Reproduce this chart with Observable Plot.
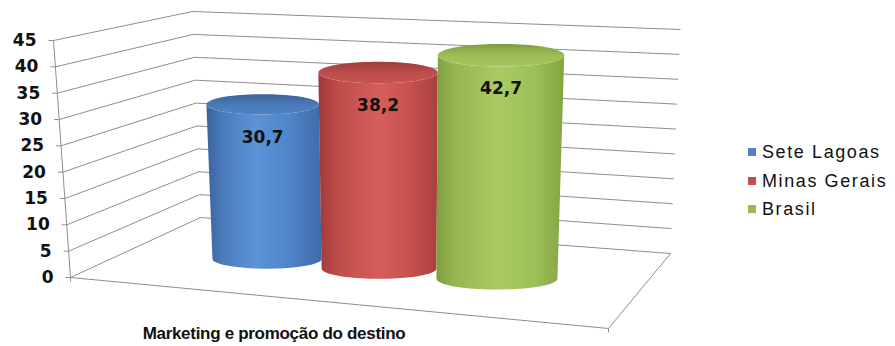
<!DOCTYPE html>
<html><head><meta charset="utf-8">
<script src="https://cdn.jsdelivr.net/npm/d3@7"></script>
<script src="https://cdn.jsdelivr.net/npm/@observablehq/plot@0.6"></script>
<style>
body{margin:0;background:#fff;}
#wrap{position:relative;width:895px;height:346px;overflow:hidden;}
#wrap svg{position:absolute;left:0;top:0;}
.leg{position:absolute;left:748px;font-family:"Liberation Sans",Arial,sans-serif;font-size:18px;letter-spacing:1.6px;color:#111;white-space:nowrap;line-height:20px;}
.leg span.sw{display:inline-block;width:8px;height:8px;margin-right:6px;vertical-align:2px;}
#xtitle{position:absolute;left:0;width:548px;top:324px;text-align:center;font-family:"Liberation Sans",Arial,sans-serif;font-weight:bold;font-size:17px;letter-spacing:-0.3px;color:#111;}
</style></head><body><div id="wrap"></div>
<script>
// ---- data ----
const series = ["Sete Lagoas", "Minas Gerais", "Brasil"];
const values = [30.7, 38.2, 42.7];
const valueLabels = ["30,7", "38,2", "42,7"];
const seriesColors = ["#4f81bd", "#c0504d", "#9bbb59"];
const yTicks = [0, 5, 10, 15, 20, 25, 30, 35, 40, 45];
const categoryLabel = "Marketing e promoção do destino";

// ---- 3D box layout (screen corners of the chart box) ----
const C = {
  FLB: [70, 277], FLT: [53, 40], BLB: [200, 217], BLT: [192, 11],
  FRB: [608, 328], FRT: [620, 70], BRB: [670, 253], BRT: [680, 29]
};
const persp = 1.12;
const depth = 0.5;
const lerp = (a, b, t) => [a[0] + (b[0] - a[0]) * t, a[1] + (b[1] - a[1]) * t];
const warp = t => t / (t + persp * (1 - t));
function P(u, v, w) {
  const bf = lerp(C.FLB, C.FRB, u), bb = lerp(C.BLB, C.BRB, u);
  const tf = lerp(C.FLT, C.FRT, u), tb = lerp(C.BLT, C.BRT, u);
  return lerp(lerp(bf, bb, w), lerp(tf, tb, w), v);
}

// Plot scales: value -> height fraction, series -> band across the box
const vScale = Plot.scale({y: {domain: [0, 45], range: [0, 1]}});
const bScale = Plot.scale({x: {type: "band", domain: series, range: [0.168, 0.852], padding: 0}});
const bw = bScale.bandwidth;

// grid segments
const segs = [];
for (const t of yTicks) {
  const v = vScale.apply(t);
  const a = P(0, v, 0), b = P(0, v, 1), c = P(1, v, 1);
  segs.push({x1: a[0], y1: a[1], x2: b[0], y2: b[1]});
  segs.push({x1: b[0], y1: b[1], x2: c[0], y2: c[1]});
  segs.push({x1: a[0] - 5, y1: a[1], x2: a[0], y2: a[1]});
}
{
  const a = P(0, 0, 0), b = P(1, 0, 0), c = P(1, 0, 1), t = P(0, 1, 0);
  segs.push({x1: a[0], y1: a[1], x2: b[0], y2: b[1]});
  segs.push({x1: b[0], y1: b[1], x2: c[0], y2: c[1]});
  segs.push({x1: a[0], y1: a[1], x2: t[0], y2: t[1]});
  segs.push({x1: a[0], y1: a[1], x2: a[0], y2: a[1] + 4});
  segs.push({x1: b[0], y1: b[1], x2: b[0], y2: b[1] + 4});
}

// cylinders
const ryRatio = 0.18;
const cyl = series.map((s, i) => {
  const t0 = bScale.apply(s), t1 = t0 + bw;
  const u0 = warp(t0), u1 = warp(t1);
  const v = vScale.apply(values[i]);
  const BL = P(u0, 0, depth), BR = P(u1, 0, depth);
  const TL = P(u0, v, depth), TR = P(u1, v, depth);
  const bot = {cx: (BL[0] + BR[0]) / 2, cy: (BL[1] + BR[1]) / 2, rx: (BR[0] - BL[0]) / 2};
  const top = {cx: (TL[0] + TR[0]) / 2, cy: (TL[1] + TR[1]) / 2, rx: (TR[0] - TL[0]) / 2};
  bot.ry = bot.rx * ryRatio; top.ry = top.rx * ryRatio;
  const E = (e, th) => [e.cx + e.rx * Math.cos(th), e.cy + e.ry * Math.sin(th)];
  const N = 40, body = [], cap = [];
  for (let k = 0; k <= N; k++) body.push(E(bot, Math.PI - Math.PI * k / N));
  for (let k = 0; k <= N; k++) body.push(E(top, Math.PI * k / N));
  for (let k = 0; k < 2 * N; k++) cap.push(E(top, 2 * Math.PI * k / (2 * N)));
  return {i, body, cap, top, label: valueLabels[i]};
});

const font = "DejaVu Sans";
const marks = [
  Plot.link(segs, {x1: "x1", y1: "y1", x2: "x2", y2: "y2", stroke: "#8e8e8e", strokeWidth: 1})
];
cyl.forEach(c => {
  marks.push(Plot.line(c.body, {x: d => d[0], y: d => d[1], curve: "linear-closed", fill: `url(#body${c.i})`, stroke: "none"}));
  marks.push(Plot.line(c.cap, {x: d => d[0], y: d => d[1], curve: "linear-closed", fill: `url(#cap${c.i})`, stroke: "none"}));
});
marks.push(Plot.text(cyl, {x: d => d.top.cx, y: d => d.top.cy + 33, text: "label", fontFamily: font, fontWeight: "bold", fontSize: 17, fill: "#111", textAnchor: "middle", style: "letter-spacing:0.6px"}));
marks.push(Plot.text(yTicks, {
  x: d => P(0, vScale.apply(d), 0)[0] - 17, y: d => P(0, vScale.apply(d), 0)[1],
  text: d => String(d), fontFamily: font, fontWeight: "bold", fontSize: 17, fill: "#111", textAnchor: "end"
}));

const svg = Plot.plot({
  width: 895, height: 346, margin: 0,
  x: {type: "identity", axis: null}, y: {type: "identity", axis: null},
  style: {background: "#fff", overflow: "visible"},
  marks
});

// gradients
const bodyStops = [
  [["#3a639c", 0], ["#4b7cbd", 0.15], ["#5c93d6", 0.42], ["#5087cb", 0.7], ["#3e6ba8", 1]],
  [["#9c3a39", 0], ["#bd4b49", 0.15], ["#d65e5b", 0.5], ["#c9524f", 0.75], ["#a8403e", 1]],
  [["#7f9e3f", 0], ["#97b851", 0.15], ["#a9cb62", 0.5], ["#9dbf57", 0.78], ["#83a442", 1]]
];
const capStops = [
  [["#3b6399", 0], ["#4a79b7", 0.5], ["#5083c3", 1]],
  [["#9e3e3c", 0], ["#bb4d4a", 0.5], ["#c65552", 1]],
  [["#7e9c3e", 0], ["#9cbd56", 0.5], ["#a6c75f", 1]]
];
const defs = d3.select(svg).insert("defs", ":first-child");
bodyStops.forEach((st, i) => {
  const g = defs.append("linearGradient").attr("id", `body${i}`).attr("x1", 0).attr("x2", 1).attr("y1", 0).attr("y2", 0);
  st.forEach(([c, o]) => g.append("stop").attr("offset", o).attr("stop-color", c));
});
capStops.forEach((st, i) => {
  const g = defs.append("linearGradient").attr("id", `cap${i}`).attr("x1", 0).attr("x2", 0).attr("y1", 0).attr("y2", 1);
  st.forEach(([c, o]) => g.append("stop").attr("offset", o).attr("stop-color", c));
});

const wrap = document.getElementById("wrap");
wrap.appendChild(svg);
series.forEach((s, i) => {
  const d = document.createElement("div");
  d.className = "leg";
  d.style.top = (142 + i * 28.5) + "px";
  d.innerHTML = `<span class="sw" style="background:${seriesColors[i]}"></span>${s}`;
  wrap.appendChild(d);
});
const t = document.createElement("div");
t.id = "xtitle"; t.textContent = categoryLabel;
wrap.appendChild(t);
</script></body></html>
